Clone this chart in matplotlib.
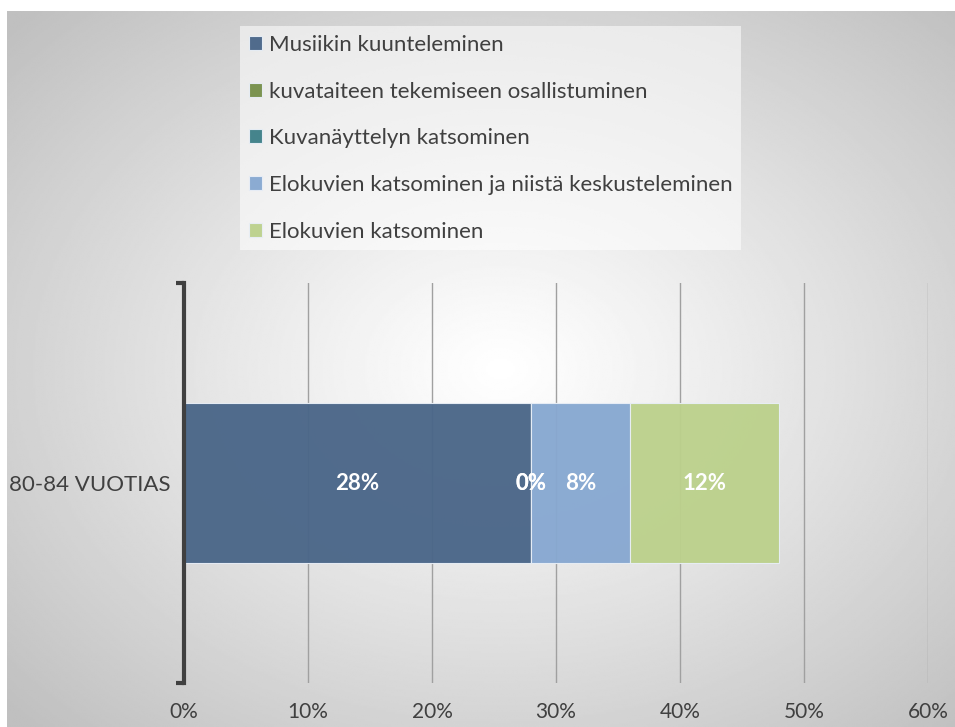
import matplotlib
matplotlib.use('Agg')
import numpy as np
import matplotlib.pyplot as plt
from matplotlib.ticker import PercentFormatter

plt.rcParams['font.family'] = ['Lato', 'DejaVu Sans']

categories = ['80-84 VUOTIAS']
series = ['Musiikin kuunteleminen',
          'kuvataiteen tekemiseen osallistuminen',
          'Kuvanäyttelyn katsominen',
          'Elokuvien katsominen ja niistä keskusteleminen',
          'Elokuvien katsominen']
values = [0.28, 0.0, 0.0, 0.08, 0.12]
colors = ['#4a6688', '#76904a', '#3e8088', '#87a8d1', '#bcd18c']
ticks = [0, 0.1, 0.2, 0.3, 0.4, 0.5, 0.6]

W, H = 955, 727
fig = plt.figure(figsize=(W / 100, H / 100), dpi=100)
fig.patch.set_facecolor('white')

# radial grey background like the office chart area
bg = fig.add_axes([7 / W, 0, (W - 7) / W, (H - 11) / H])
yy, xx = np.mgrid[0:1:400j, 0:1:500j]
d = np.sqrt(((xx - 0.52) / 0.5) ** 2 + ((yy - 0.5) / 0.5) ** 2) / np.sqrt(2)
shade = 1 - 0.25 * np.clip(d, 0, 1) ** 1.1
bg.imshow(shade, cmap='gray', vmin=0, vmax=1, aspect='auto',
          extent=[0, 1, 0, 1], interpolation='bilinear')
bg.axis('off')

ax = fig.add_axes([184 / W, 1 - 683 / H, (928 - 184) / W, 400 / H])
ax.patch.set_alpha(0)

left = 0
for name, v, c in zip(series, values, colors):
    bars = ax.barh(categories, [v], left=left, height=0.4, color=c,
                   edgecolor='#e8eef6', linewidth=0.8, alpha=0.96,
                   label=name, zorder=3)
    ax.bar_label(bars, labels=['%d%%' % round(v * 100)], label_type='center',
                 color='white', fontsize=16, fontweight='bold', zorder=4)
    left += v

ax.set_xlim(0, 0.6)
ax.set_ylim(-0.5, 0.5)
ax.set_xticks(ticks)
ax.xaxis.set_major_formatter(PercentFormatter(1.0, decimals=0))
ax.xaxis.grid(True, color='#a0a0a0', linewidth=1, zorder=1)
ax.set_axisbelow(True)
for s in ['top', 'right', 'bottom']:
    ax.spines[s].set_visible(False)
ax.spines['left'].set_color('#404040')
ax.spines['left'].set_linewidth(3)
ax.spines['left'].set_zorder(5)
ax.set_yticks([-0.5, 0.5], minor=True)
ax.tick_params(axis='y', which='minor', length=6, width=3, color='#404040')
ax.tick_params(axis='y', which='major', length=0, pad=10,
               labelsize=16, labelcolor='#404040')
ax.tick_params(axis='x', length=0, pad=14, labelsize=15, labelcolor='#404040')

leg = fig.legend(loc='upper left', bbox_to_anchor=(240 / W, 1 - 26 / H),
                 fontsize=16, frameon=True, fancybox=False,
                 handlelength=0.6, handleheight=0.6, handletextpad=0.3,
                 labelspacing=1.2, borderpad=0.4, borderaxespad=0)
leg.get_frame().set_facecolor('white')
leg.get_frame().set_alpha(0.55)
leg.get_frame().set_edgecolor('none')
for t in leg.get_texts():
    t.set_color('#404040')

fig.savefig('out.png', dpi=100)
